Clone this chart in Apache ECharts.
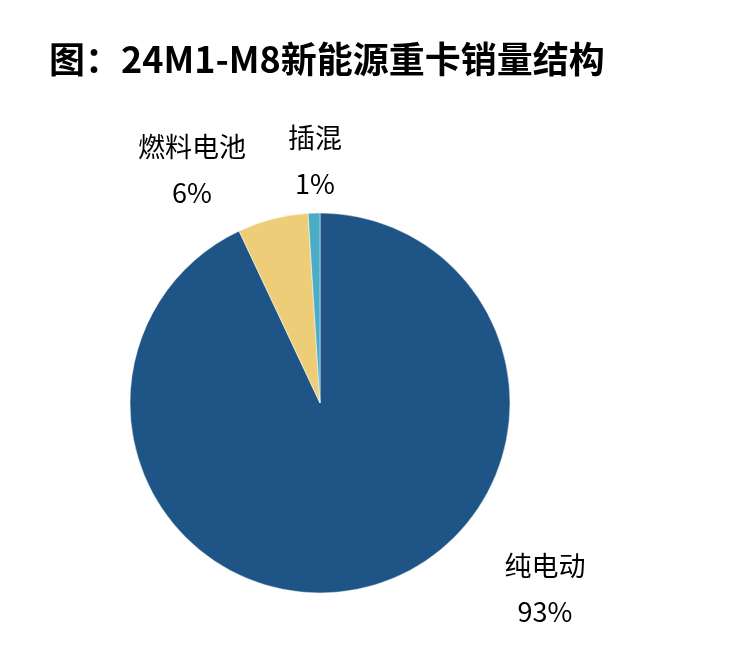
<!DOCTYPE html>
<html lang="zh">
<head>
    <meta charset="UTF-8"/>
    <title>24M1-M8新能源重卡销量结构</title>
    <script src="https://cdn.jsdelivr.net/npm/echarts@6/dist/echarts.min.js"></script>
</head>
<body style="margin:0;background:#fff">
<div id="main" style="width:756px;height:672px"></div>
<script type="text/javascript">
    // 数据
    var names = ['纯电动', '燃料电池', '插混'];
    var values = [93, 6, 1];
    var colors = ['#1F5486', '#EDCD77', '#4BACC6'];
    // 标签中心位置（仿Excel手动摆放）
    var labelPos = [[545, 589], [192, 170], [315, 161]];

    var myChart = echarts.init(document.getElementById('main'));
    var font = '"Noto Sans CJK SC", "Microsoft YaHei", sans-serif';

    var option = {
        backgroundColor: '#fff',
        title: {
            text: '图：24M1-M8新能源重卡销量结构',
            left: 44,
            top: 36,
            textStyle: {
                fontFamily: font,
                fontSize: 36,
                fontWeight: 'bold',
                color: '#000'
            }
        },
        series: [{
            type: 'pie',
            radius: 190,
            center: [320, 403],
            startAngle: 90,
            clockwise: true,
            animation: false,
            data: names.map(function (n, i) {
                return { name: n, value: values[i], itemStyle: { color: colors[i] } };
            }),
            itemStyle: { borderColor: '#fff', borderWidth: 0.5 },
            label: {
                show: true,
                position: 'outside',
                alignTo: 'none',
                overflow: 'none',
                bleedMargin: 0,
                formatter: '{b}\n{d}%',
                fontFamily: font,
                fontSize: 27,
                lineHeight: 46,
                color: '#000',
                align: 'center'
            },
            labelLine: { show: false },
            labelLayout: function (params) {
                var p = labelPos[params.dataIndex];
                return { x: p[0], y: p[1], align: 'center', verticalAlign: 'middle' };
            }
        }]
    };
    myChart.setOption(option);
</script>
</body>
</html>
